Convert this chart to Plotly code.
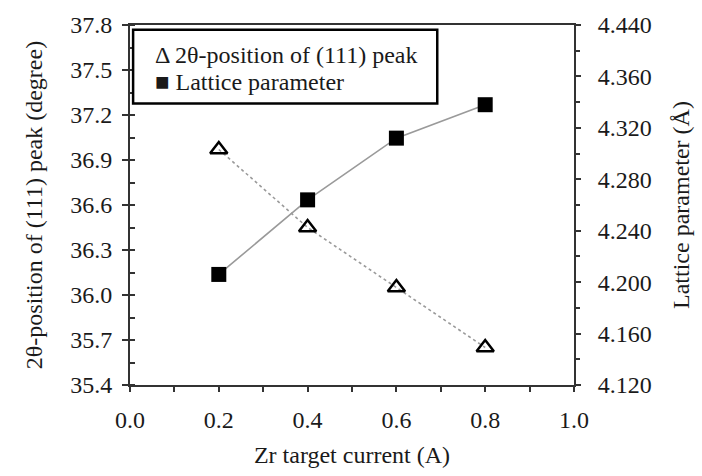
import plotly.graph_objects as go

current = [0.2, 0.4, 0.6, 0.8]
peak_2theta = [36.97, 36.45, 36.05, 35.65]
lattice = [4.206, 4.264, 4.312, 4.338]

lattice_tickvals = [4.12, 4.16, 4.20, 4.24, 4.28, 4.32, 4.36, 4.40]
lattice_ticktext = ["4.120", "4.160", "4.200", "4.240", "4.280", "4.320", "4.360", "4.440"]

legend_lines = ["Δ 2θ-position of (111) peak", "■ Lattice parameter"]

FONT = "Liberation Serif, Times New Roman, DejaVu Serif, serif"
AX = "#333333"
FS = 24

fig = go.Figure()
fig.add_trace(go.Scatter(
    x=current, y=peak_2theta, mode="lines+markers", name=legend_lines[0],
    line=dict(color="#9a9a9a", width=1.6, dash="dot"),
    marker=dict(symbol="triangle-up-open", size=15, color="black", line=dict(width=2.5, color="black")),
    yaxis="y"))
fig.add_trace(go.Scatter(
    x=current, y=lattice, mode="lines+markers", name=legend_lines[1],
    line=dict(color="#9a9a9a", width=1.6),
    marker=dict(symbol="square", size=15, color="black"),
    yaxis="y2"))

fig.update_layout(
    width=702, height=476,
    margin=dict(l=130, r=127, t=15, b=81),
    paper_bgcolor="white", plot_bgcolor="white",
    showlegend=False,
    font=dict(family=FONT, size=FS, color="#1a1a1a"),
    xaxis=dict(
        range=[0, 1], dtick=0.2, tickformat=".1f", showgrid=False, zeroline=False,
        showline=True, linecolor=AX, linewidth=2, mirror=True,
        ticks="outside", ticklen=5, tickwidth=1.5, tickcolor=AX, ticklabelstandoff=7,
        minor=dict(dtick=0.1, ticks="outside", ticklen=5, tickwidth=1.5, tickcolor=AX),
        title=dict(text="Zr target current (A)", standoff=14, font=dict(size=FS)),
    ),
    yaxis=dict(
        range=[35.4, 37.8], dtick=0.3, tickformat=".1f", showgrid=False, zeroline=False,
        showline=True, linecolor=AX, linewidth=2,
        ticks="outside", ticklen=6, tickwidth=1.5, tickcolor=AX, ticklabelstandoff=5,
        minor=dict(dtick=0.15, ticks="inside", ticklen=5, tickwidth=1.5, tickcolor=AX),
        title=dict(text="2θ-position of (111) peak (degree)", standoff=21, font=dict(size=FS)),
    ),
    yaxis2=dict(
        range=[4.12, 4.40], tickvals=lattice_tickvals, ticktext=lattice_ticktext,
        showgrid=False, zeroline=False,
        overlaying="y", side="right",
        showline=True, linecolor=AX, linewidth=2,
        ticks="outside", ticklen=5, tickwidth=1.5, tickcolor=AX, ticklabelstandoff=12,
        minor=dict(tickvals=[4.14, 4.18, 4.22, 4.26, 4.30, 4.34, 4.38], ticks="outside",
                   ticklen=4, tickwidth=1.5, tickcolor=AX),
        title=dict(text="Lattice parameter (Å)", standoff=21, font=dict(size=FS)),
    ),
)

# legend box drawn as a framed text block
fig.add_shape(type="rect", xref="paper", yref="paper",
              x0=0.007, x1=0.692, y0=0.782, y1=0.987,
              line=dict(color="black", width=2.5), fillcolor="white", layer="above")
for txt, yy in zip(legend_lines, [0.916, 0.842]):
    fig.add_annotation(
        xref="paper", yref="paper", x=0.052, y=yy, xanchor="left", yanchor="middle",
        text=txt, showarrow=False, font=dict(family=FONT, size=FS, color="#1a1a1a"))

fig.write_html("out.html")
